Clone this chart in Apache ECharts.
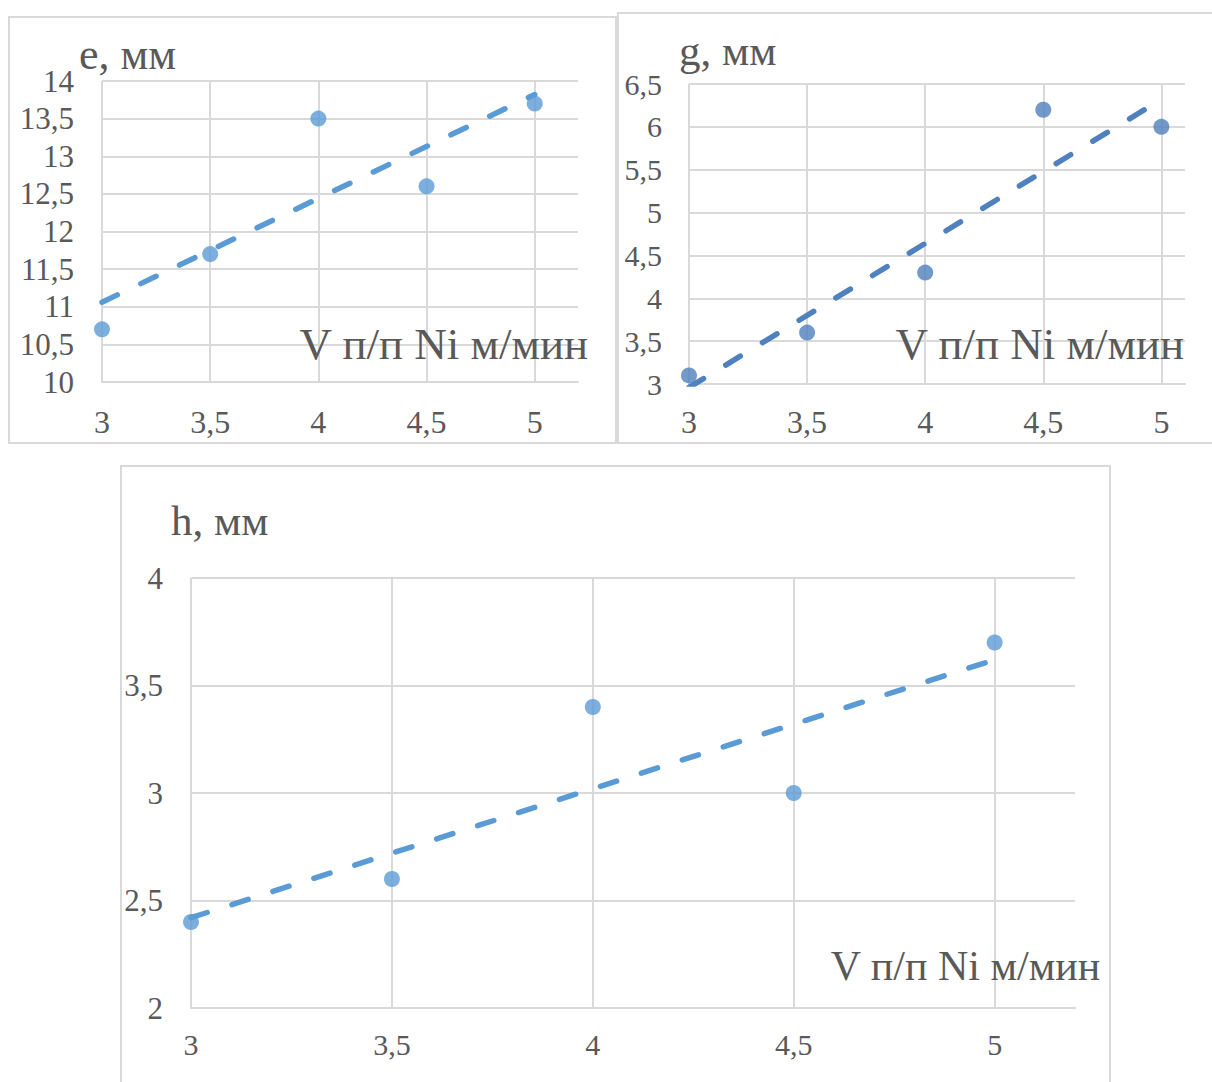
<!DOCTYPE html>
<html>
<head>
<meta charset="utf-8">
<script src="https://cdn.jsdelivr.net/npm/echarts@6/dist/echarts.min.js"></script>
<style>
html,body{margin:0;padding:0;background:#fff;}
#chart{width:1212px;height:1082px;}
</style>
</head>
<body>
<div id="chart"></div>
<script>
// ---- data ----
const xValues = [3, 3.5, 4, 4.5, 5];
const eValues = [10.7, 11.7, 13.5, 12.6, 13.7];
const gValues = [3.1, 3.6, 4.3, 6.2, 6.0];
const hValues = [2.4, 2.6, 3.4, 3.0, 3.7];
const trendX = [3, 5];
const eTrend = [11.06, 13.82];
const gTrend = [2.96, 6.32];
const hTrend = [2.42, 3.62];
const titles = ['e, мм', 'g, мм', 'h, мм'];
const xName = 'V п/п Ni м/мин';

const FONT = 'Liberation Serif';
const TXT = '#595959';
const GRID = '#d9d9d9';
const comma = v => String(v).replace('.', ',');
const pts = (xs, ys) => xs.map((x, i) => [x, ys[i]]);

function labelStyle(fs, margin) {
  return {color: TXT, fontFamily: FONT, fontSize: fs, margin: margin, formatter: comma};
}
function xAxis(gi, max, fs, margin) {
  return {
    type: 'value', gridIndex: gi, min: 3, max: max, interval: 0.5,
    axisLine: {show: true, lineStyle: {color: GRID, width: 2}},
    axisTick: {show: false},
    axisLabel: Object.assign(labelStyle(fs, margin), {showMaxLabel: false}),
    splitLine: {show: true, showMaxLine: false, lineStyle: {color: GRID, width: 2}}
  };
}
function yAxis(gi, min, max, fs, margin) {
  return {
    type: 'value', gridIndex: gi, min: min, max: max, interval: 0.5,
    axisLine: {show: false}, axisTick: {show: false},
    axisLabel: labelStyle(fs, margin),
    splitLine: {show: true, lineStyle: {color: GRID, width: 2}}
  };
}
function scatter(gi, ys, color) {
  return {type: 'scatter', xAxisIndex: gi, yAxisIndex: gi, data: pts(xValues, ys),
    symbol: 'circle', symbolSize: 16, itemStyle: {color: color}, z: 3};
}
function trend(gi, ys, color) {
  return {type: 'line', xAxisIndex: gi, yAxisIndex: gi, data: pts(trendX, ys),
    symbol: 'none', lineStyle: {color: color, width: 5.5, type: [17, 26], cap: 'round'}, z: 2};
}
function title(text, pos, fs) {
  return Object.assign({text: text, padding: 0,
    textStyle: {color: TXT, fontFamily: FONT, fontSize: fs, fontWeight: 'normal'}}, pos);
}

const C1 = '#5b9bd5', C2 = '#4e81bd';

const option = {
  backgroundColor: '#fff',
  animation: false,
  textStyle: {fontFamily: FONT, color: TXT},
  grid: [
    {left: 102, top: 81, width: 476, height: 301},
    {left: 689, top: 84, width: 496, height: 300},
    {left: 191, top: 578, width: 884, height: 430}
  ],
  xAxis: [xAxis(0, 5.2, 32, 24), xAxis(1, 5.1, 32, 22), xAxis(2, 5.2, 30, 21)],
  yAxis: [yAxis(0, 10, 14, 31, 28), yAxis(1, 3, 6.5, 30, 27), yAxis(2, 2, 4, 31, 28)],
  title: [
    title(titles[0], {left: 79, top: 32}, 44),
    title(titles[1], {left: 679, top: 29}, 43),
    title(titles[2], {left: 171, top: 499}, 43),
    title(xName, {right: 623, top: 321}, 45),
    title(xName, {right: 27, top: 321}, 45),
    title(xName, {right: 111, top: 945}, 42)
  ],
  graphic: [
    {type: 'rect', shape: {x: 9, y: 17, width: 607, height: 426}, style: {fill: 'none', stroke: GRID, lineWidth: 2}, silent: true},
    {type: 'rect', shape: {x: 618, y: 13, width: 610, height: 430}, style: {fill: 'none', stroke: GRID, lineWidth: 2}, silent: true},
    {type: 'rect', shape: {x: 121, y: 466, width: 989, height: 650}, style: {fill: 'none', stroke: GRID, lineWidth: 2}, silent: true}
  ],
  series: [
    trend(0, eTrend, C1), scatter(0, eValues, C1),
    trend(1, gTrend, C2), scatter(1, gValues, C2),
    trend(2, hTrend, C1), scatter(2, hValues, C1)
  ]
};
const chart = echarts.init(document.getElementById('chart'), null, {renderer: 'svg'});
chart.setOption(option);
</script>
</body>
</html>
